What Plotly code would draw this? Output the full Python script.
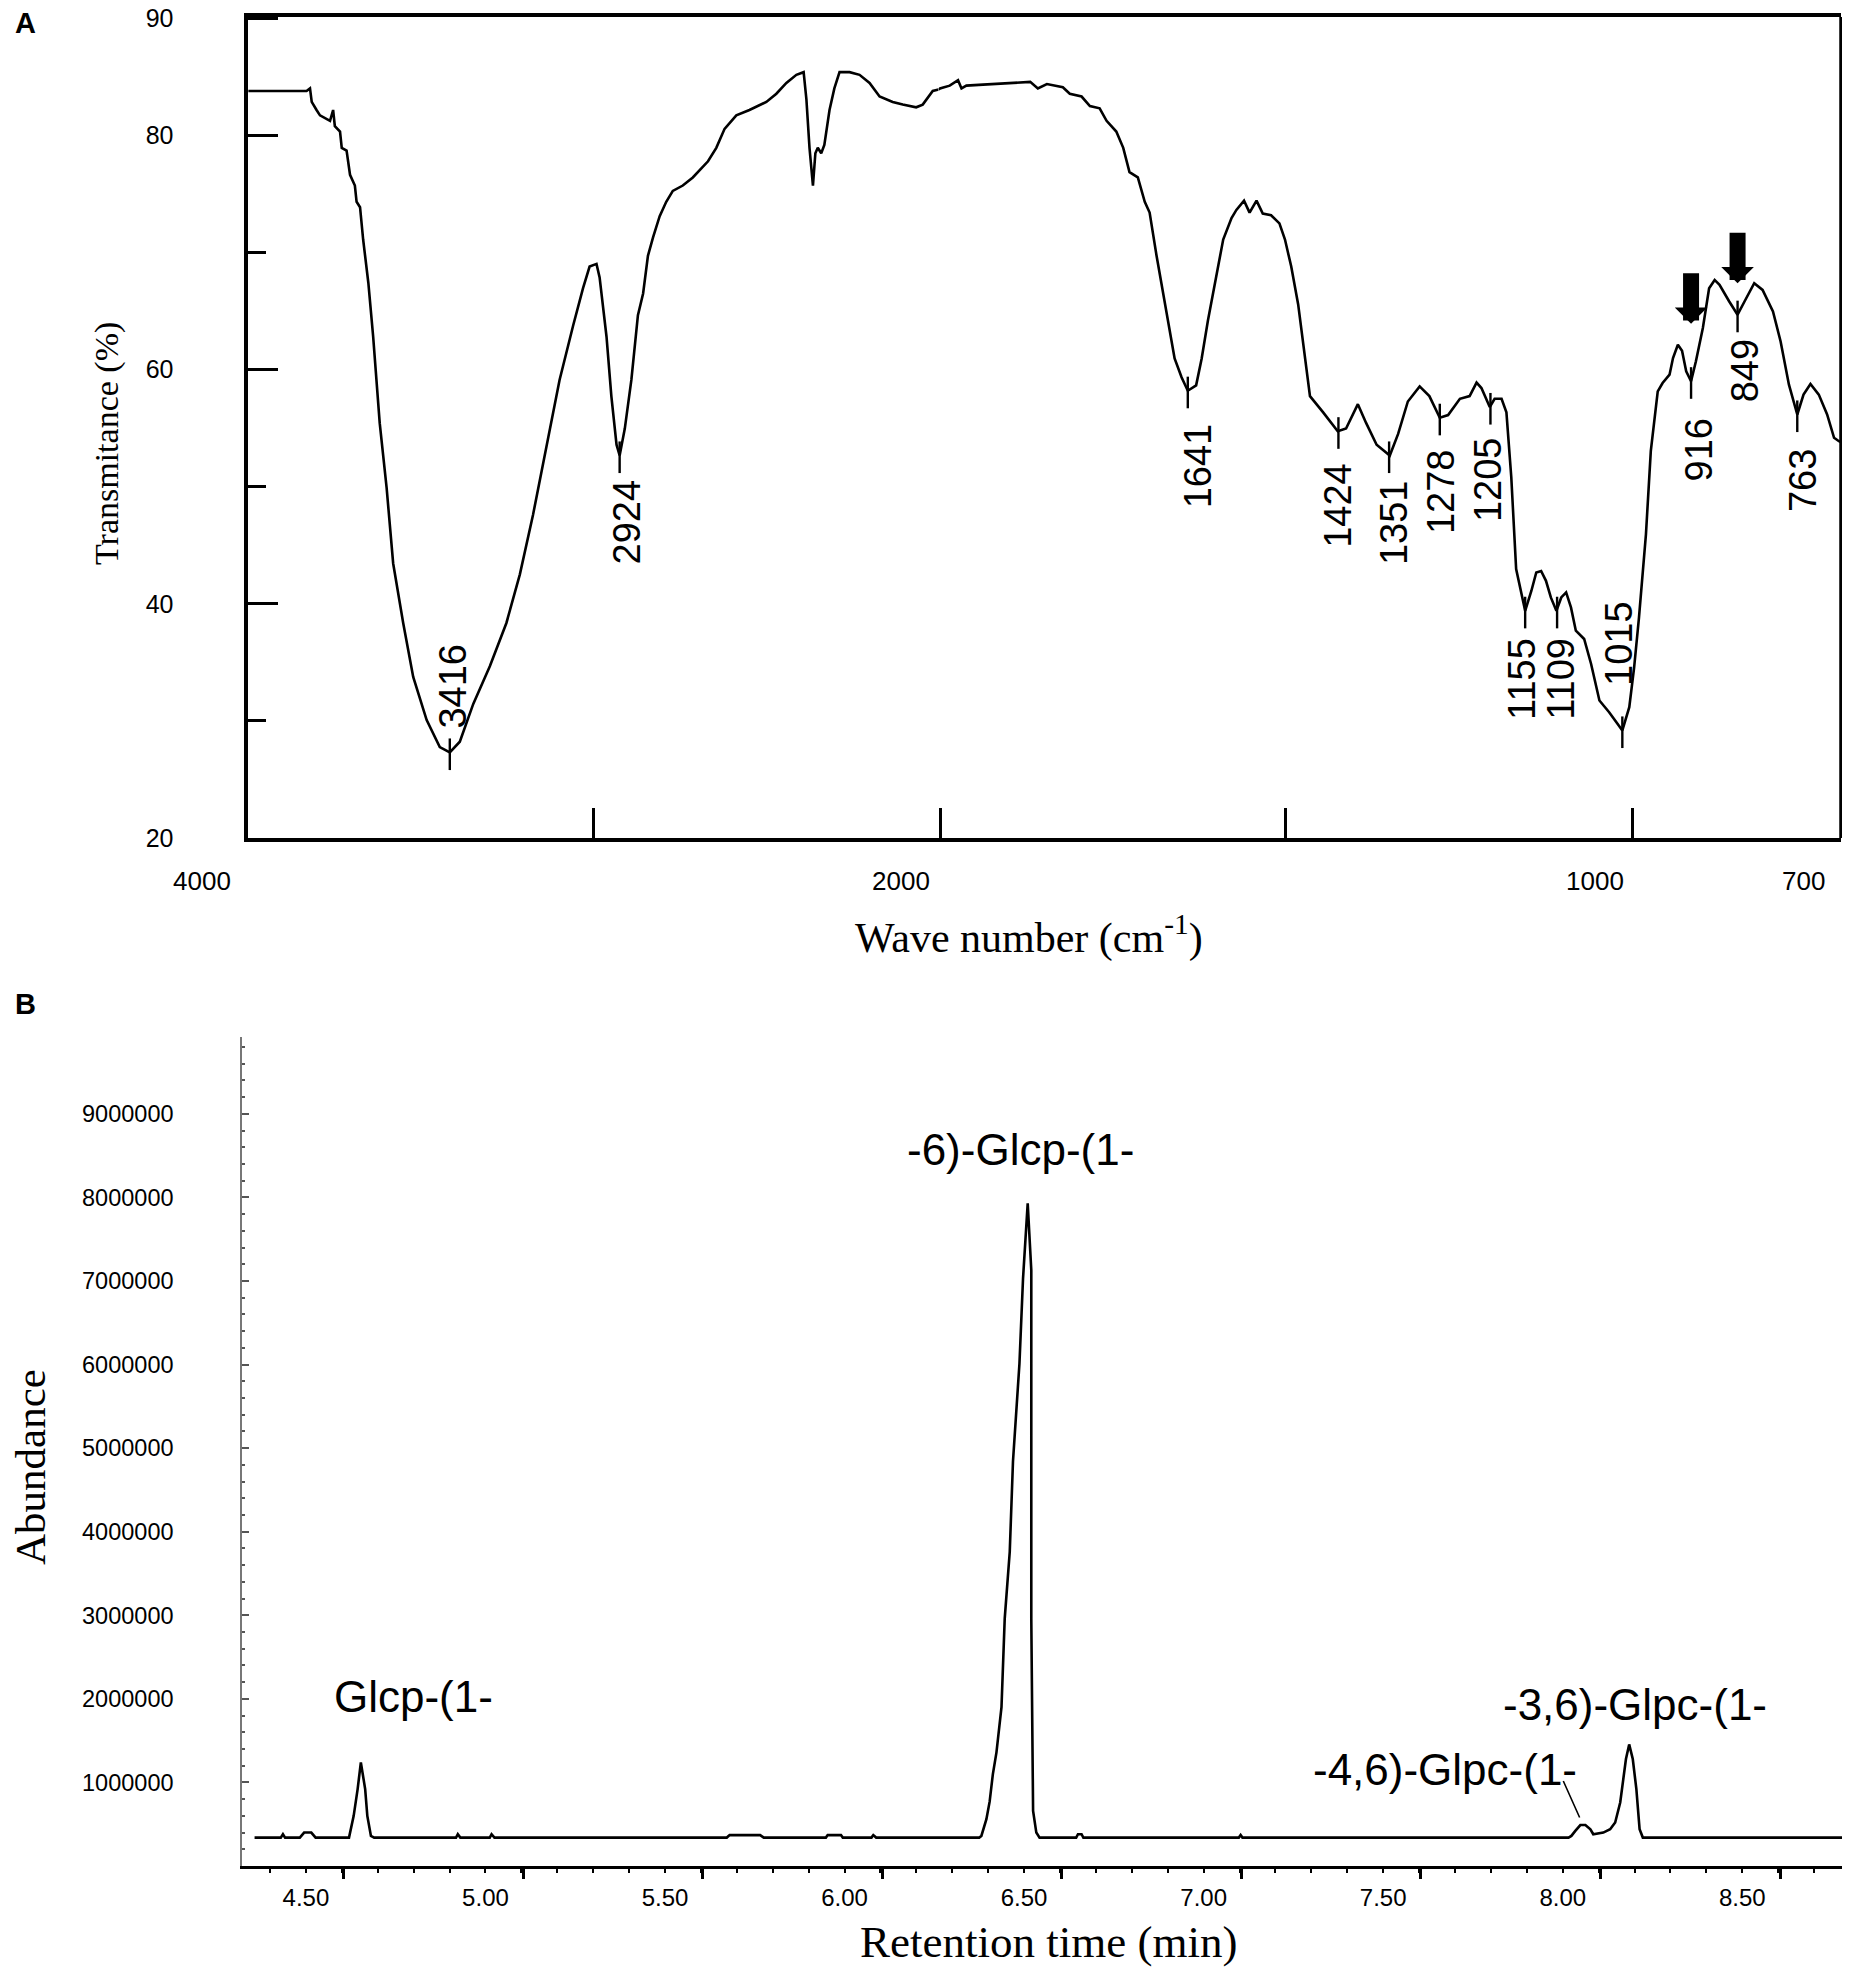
import plotly.graph_objects as go

W, H = 1850, 1968
OFF = 8  # page body margin of the saved html

# ---------------- Panel A: FTIR spectrum ----------------
ir_wn_high = [4000, 3831, 3821, 3816, 3802, 3792, 3763, 3754, 3749, 3734, 3729, 3715, 3705, 3691,
              3686, 3676, 3667, 3652, 3638, 3619, 3599, 3580, 3551, 3522, 3483, 3445, 3416, 3387,
              3348, 3300, 3252, 3213, 3175, 3136, 3098, 3059, 3030, 3011, 2991, 2982, 2962, 2948,
              2933, 2924, 2909, 2890, 2871, 2856, 2842, 2827, 2808, 2789, 2770, 2741, 2712, 2668,
              2644, 2620, 2586, 2548, 2499, 2470, 2441, 2412, 2391, 2383, 2374, 2364, 2357, 2350,
              2340, 2331, 2316, 2302, 2287, 2258, 2229, 2200, 2171, 2133, 2104, 2065, 2046, 2017, 2000]
ir_t_high = [83.78, 83.78, 84.0, 82.85, 82.16, 81.70, 81.24, 82.16, 80.78, 80.32, 78.93, 78.70, 76.63, 75.71,
             74.32, 73.86, 71.10, 67.41, 62.80, 55.42, 49.89, 43.44, 38.36, 33.75, 30.07, 27.76, 27.30, 28.22,
             31.45, 34.67, 38.36, 42.51, 47.58, 53.58, 59.11, 63.72, 66.95, 68.79, 69.02, 67.87, 62.80, 57.73,
             53.58, 52.66, 54.96, 59.11, 64.64, 66.49, 69.71, 71.3, 73.1, 74.32, 75.25, 75.71, 76.40, 77.78,
             78.93, 80.55, 81.70, 82.16, 82.85, 83.55, 84.47, 85.16, 85.39, 83.08, 78.93, 75.71, 78.47, 78.93,
             78.47, 79.17, 82.16, 84.0, 85.39, 85.39, 85.16, 84.47, 83.31, 82.85, 82.62, 82.39, 82.62, 83.78, 83.9]

ir_wn_low = [2000, 1998, 1984, 1972, 1967, 1960, 1936, 1897, 1868, 1857, 1844, 1821, 1811, 1794, 1782,
             1768, 1758, 1744, 1734, 1725, 1713, 1703, 1696, 1686, 1679, 1669, 1660, 1650, 1641, 1629,
             1621, 1612, 1602, 1590, 1578, 1571, 1560, 1552, 1542, 1533, 1521, 1509, 1501, 1492, 1482,
             1473, 1465, 1446, 1425, 1413, 1396, 1384, 1369, 1350, 1338, 1324, 1307, 1293, 1278, 1266,
             1249, 1235, 1225, 1218, 1206, 1199, 1189, 1182, 1175, 1168, 1161, 1155, 1146, 1139, 1132,
             1125, 1118, 1110, 1103, 1096, 1089, 1082, 1070, 1060, 1048, 1034, 1022, 1015, 1005, 998,
             991, 981, 974, 964, 957, 947, 942, 935, 929, 923, 916, 909, 899, 890, 882, 875, 861, 849,
             839, 825, 813, 798, 787, 775, 763, 754, 744, 732, 720, 710, 703, 700]
ir_t_low = [83.9, 84.0, 84.24, 84.70, 84.0, 84.24, 84.33, 84.47, 84.56, 84.0, 84.38, 84.10, 83.55, 83.31, 82.5,
            82.3, 81.24, 80.32, 78.93, 76.86, 76.40, 74.32, 73.40, 69.71, 67.41, 64.18, 60.95, 59.34, 58.19, 58.65,
            60.95, 64.18, 67.41, 71.10, 72.94, 73.63, 74.42, 73.40, 74.42, 73.31, 73.17, 72.48, 71.10, 68.79, 65.56,
            61.42, 57.73, 56.34, 54.73, 54.96, 57.04, 55.42, 53.58, 52.66, 54.50, 57.27, 58.56, 57.73, 55.88, 56.11,
            57.50, 57.73, 58.88, 58.42, 56.80, 57.50, 57.50, 56.34, 50.81, 42.97, 40.9, 39.4, 41.11, 42.67, 42.8,
            41.96, 40.54, 39.40, 40.54, 40.97, 39.69, 37.70, 36.99, 34.86, 31.74, 30.74, 29.75, 29.18, 31.17, 34.57,
            38.83, 45.93, 53.03, 58.14, 58.85, 59.56, 60.98, 62.12, 61.6, 59.85, 59.0, 60.70, 63.54, 66.94, 67.65, 67.23, 65.81, 64.68,
            65.81, 67.37, 66.80, 64.96, 62.40, 58.71, 56.16, 57.86, 58.77, 57.86, 56.16, 54.17, 53.88, 53.8]

peak_wn = [3416, 2924, 1641, 1424, 1351, 1278, 1205, 1155, 1109, 1015, 916, 849, 763]
peak_t = [27.3, 52.66, 58.19, 54.73, 52.66, 55.88, 56.80, 39.4, 39.4, 29.18, 59.0, 64.68, 56.16]
peak_label_t = [33.0, 47.0, 51.8, 48.4, 46.9, 49.6, 50.6, 33.6, 33.6, 36.6, 53.1, 59.9, 50.5]
peak_label_dx = [3, 7, 10, 0, 5, 2, -3, -3, 4, -4, 8, 7, 6]

arrow_wn = [916, 849]
arrow_tip_t = [63.9, 67.36]

ir_y_major = [20, 40, 60, 80, 90]
ir_y_minor = [30, 50, 70]
ir_x_ticks_high = [4000, 3000]
ir_x_ticks_low = [1997, 1500, 1000, 700]
ir_x_labels = ["4000", "2000", "1000", "700"]

# ---------------- Panel B: GC chromatogram ----------------
gc_time = [4.357, 4.430, 4.436, 4.442, 4.483, 4.495, 4.515, 4.527,
           4.620, 4.624, 4.633, 4.644, 4.653, 4.665, 4.671, 4.681, 4.690,
           4.918, 4.923, 4.930, 5.012, 5.017, 5.025,
           5.672, 5.680, 5.765, 5.775, 5.948, 5.953, 5.990, 5.995,
           6.075, 6.080, 6.088,
           6.375, 6.381, 6.395, 6.404, 6.413, 6.423, 6.437, 6.446, 6.460, 6.469, 6.487, 6.497, 6.510,
           6.520, 6.520, 6.525, 6.534, 6.543,
           6.645, 6.650, 6.660, 6.665, 7.098, 7.103, 7.108,
           8.016, 8.024, 8.035, 8.049, 8.063, 8.077, 8.085, 8.113, 8.132, 8.146, 8.160, 8.167, 8.176,
           8.185, 8.195, 8.205, 8.209, 8.214, 8.223, 8.784]
gc_abund = [0.34e6, 0.34e6, 0.38e6, 0.34e6, 0.34e6, 0.40e6, 0.40e6, 0.34e6,
            0.34e6, 0.42e6, 0.60e6, 0.92e6, 1.24e6, 0.92e6, 0.60e6, 0.36e6, 0.34e6,
            0.34e6, 0.38e6, 0.34e6, 0.34e6, 0.38e6, 0.34e6,
            0.34e6, 0.37e6, 0.37e6, 0.34e6, 0.34e6, 0.37e6, 0.37e6, 0.34e6,
            0.34e6, 0.37e6, 0.34e6,
            0.34e6, 0.36e6, 0.56e6, 0.77e6, 1.10e6, 1.36e6, 1.90e6, 2.96e6, 3.76e6, 4.84e6, 6.01e6, 7.03e6, 7.93e6,
            7.13e6, 2.96e6, 0.66e6, 0.40e6, 0.34e6,
            0.34e6, 0.38e6, 0.38e6, 0.34e6, 0.34e6, 0.37e6, 0.34e6,
            0.34e6, 0.36e6, 0.42e6, 0.49e6, 0.49e6, 0.44e6, 0.38e6, 0.40e6, 0.44e6, 0.52e6, 0.76e6, 1.00e6, 1.28e6,
            1.455e6, 1.28e6, 0.92e6, 0.68e6, 0.44e6, 0.34e6, 0.34e6]

gc_peak_names = ["Glcp-(1-", "-6)-Glcp-(1-", "-4,6)-Glpc-(1-", "-3,6)-Glpc-(1-"]
gc_name_t = [4.80, 6.49, 7.673, 8.202]
gc_name_v = [2.03e6, 8.57e6, 1.156e6, 1.933e6]

gc_x_labels = [4.5, 5.0, 5.5, 6.0, 6.5, 7.0, 7.5, 8.0, 8.5]
gc_y_labels = [1e6, 2e6, 3e6, 4e6, 5e6, 6e6, 7e6, 8e6, 9e6]

# ---------------- figure ----------------
SANS = "Liberation Sans, Arial, sans-serif"
SERIF = "Liberation Serif, Times New Roman, serif"
def px(x):
    return (x - OFF) / W
def py(y):
    return 1 - (y - OFF) / H

fig = go.Figure()
line_style = dict(color="black", width=2.6)
fig.add_trace(go.Scatter(x=ir_wn_high, y=ir_t_high, mode="lines", line=line_style,
                         xaxis="x", yaxis="y", hoverinfo="skip"))
fig.add_trace(go.Scatter(x=ir_wn_low, y=ir_t_low, mode="lines", line=line_style,
                         xaxis="x2", yaxis="y", hoverinfo="skip"))

# peak markers (short vertical ticks through each labelled minimum)
for wn, t in zip(peak_wn, peak_t):
    fig.add_trace(go.Scatter(x=[wn, wn], y=[t + 1.2, t - 1.5], mode="lines",
                             line=dict(color="black", width=2.4),
                             xaxis="x" if wn > 2000 else "x2", yaxis="y", hoverinfo="skip"))

fig.add_trace(go.Scatter(x=gc_time, y=gc_abund, mode="lines", line=dict(color="black", width=2.6),
                         xaxis="x3", yaxis="y3", hoverinfo="skip"))
# invisible helper so the tick-only overlay axis is drawn
fig.add_trace(go.Scatter(x=[gc_time[0]], y=[gc_abund[0]], mode="markers", marker=dict(opacity=0),
                         xaxis="x4", yaxis="y3", hoverinfo="skip"))

xA_split = 938.6
fig.update_layout(
    template="none",
    width=W, height=H, showlegend=False,
    margin=dict(l=0, r=0, t=0, b=0, autoexpand=False),
    paper_bgcolor="white", plot_bgcolor="white",
    xaxis=dict(domain=[px(248.2), px(xA_split)], range=[4000, 2000], anchor="y", automargin=False,
               showline=True, linewidth=3.5, linecolor="black", mirror=True,
               showgrid=False, zeroline=False, ticks="inside", ticklen=30, tickwidth=3,
               tickcolor="black", tickmode="array", tickvals=ir_x_ticks_high, showticklabels=False),
    xaxis2=dict(domain=[px(xA_split), px(1841)], range=[2000, 700], anchor="y", automargin=False,
                showline=True, linewidth=3.5, linecolor="black", mirror=True,
                showgrid=False, zeroline=False, ticks="inside", ticklen=30, tickwidth=3,
                tickcolor="black", tickmode="array", tickvals=ir_x_ticks_low, showticklabels=False),
    yaxis=dict(domain=[py(838), py(17)], range=[20, 90.1], anchor="x", automargin=False,
               showline=True, linewidth=3.5, linecolor="black",
               showgrid=False, zeroline=False, ticks="inside", ticklen=30, tickwidth=3,
               tickcolor="black", tickmode="array", tickvals=ir_y_major,
               ticktext=[str(v) for v in ir_y_major], ticklabelstandoff=66,
               ticklabeloverflow="allow",
               tickfont=dict(family=SANS, size=25, color="black"),
               minor=dict(tickmode="array", tickvals=ir_y_minor, ticks="inside", ticklen=18,
                          tickwidth=3, tickcolor="black")),
    xaxis3=dict(domain=[px(242), px(1845)], range=[4.322, 8.786], anchor="y3", automargin=False,
                showline=True, linewidth=3, linecolor="black", showgrid=False, zeroline=False,
                ticks="", tickmode="array", tickvals=gc_x_labels,
                ticktext=["%.2f" % v for v in gc_x_labels], ticklabelstandoff=8,
                ticklabeloverflow="allow",
                tickfont=dict(family=SANS, size=24, color="black")),
    xaxis4=dict(domain=[px(242), px(1845)], range=[4.322, 8.786], anchor="y3", overlaying="x3",
                automargin=False,
                showline=False, showgrid=False, zeroline=False, showticklabels=False,
                ticks="outside", ticklen=12, tickwidth=2.5, tickcolor="black",
                tick0=0.105, dtick=0.5,
                minor=dict(ticks="outside", dtick=0.1, ticklen=6, tickwidth=2, tickcolor="black")),
    yaxis3=dict(domain=[py(1866), py(1037)], range=[0, 9.92e6], anchor="x3", automargin=False,
                showline=True, linewidth=1.5, linecolor="#777777", showgrid=False, zeroline=False,
                ticks="inside", ticklen=7, tickwidth=1.5, tickcolor="#555555",
                tickmode="array", tickvals=gc_y_labels, ticktext=["%d" % v for v in gc_y_labels],
                ticklabelstandoff=62, ticklabeloverflow="allow",
                tickfont=dict(family=SANS, size=23.5, color="black"),
                minor=dict(ticks="inside", dtick=0.2e6, ticklen=3, tickwidth=1.5, tickcolor="#555555")),
)

# right border of panel A
fig.add_shape(type="line", xref="paper", yref="paper", x0=px(1841), x1=px(1841),
              y0=py(838), y1=py(17), line=dict(color="black", width=3.5))

C = dict(xanchor="center", yanchor="middle")
ann = []
# panel A x tick labels (offset to the left of their ticks, as in the original)
for lab, val, dx in zip(ir_x_labels, [4000, 2000, 1000, 700], [-46, -38, -38, -38]):
    ann.append(dict(x=val, xref="x" if val > 2000 else "x2", y=py(881), yref="paper",
                    text=lab, showarrow=False, xshift=dx,
                    font=dict(family=SANS, size=26, color="black"), **C))
# peak labels
for wn, lt, dx in zip(peak_wn, peak_label_t, peak_label_dx):
    ann.append(dict(x=wn, xref="x" if wn > 2000 else "x2", y=lt, yref="y", text=str(wn),
                    textangle=-90, showarrow=False, xshift=dx,
                    font=dict(family=SANS, size=38, color="black"), **C))
# arrows
for wn, tt in zip(arrow_wn, arrow_tip_t):
    ann.append(dict(x=wn, xref="x2", y=tt, yref="y", text="", showarrow=True,
                    ax=0, ay=-52, arrowhead=1, arrowsize=0.34, arrowwidth=16, arrowcolor="black"))
# axis titles panel A
ann.append(dict(x=px(107), y=py(444), xref="paper", yref="paper", text="Transmitance (%)",
                textangle=-90, showarrow=False, font=dict(family=SERIF, size=34, color="black"), **C))
ann.append(dict(x=px(1029), y=py(935), xref="paper", yref="paper",
                text="Wave number (cm<sup>-1</sup>)", showarrow=False,
                font=dict(family=SERIF, size=42, color="black"), **C))
# panel letters
ann.append(dict(x=px(25), y=py(23), xref="paper", yref="paper", text="<b>A</b>", showarrow=False,
                font=dict(family=SANS, size=29, color="black"), **C))
ann.append(dict(x=px(25), y=py(1004), xref="paper", yref="paper", text="<b>B</b>", showarrow=False,
                font=dict(family=SANS, size=29, color="black"), **C))
# panel B peak names
for name, t, v in zip(gc_peak_names, gc_name_t, gc_name_v):
    ann.append(dict(x=t, y=v, xref="x3", yref="y3", text=name, showarrow=False,
                    font=dict(family=SANS, size=44, color="black"), **C))
# leader line for the -4,6) peak
ann.append(dict(x=8.047, y=0.58e6, xref="x3", yref="y3", text="", showarrow=True,
                ax=-17, ay=-38, arrowhead=0, arrowwidth=1.6, arrowcolor="black"))
# axis titles panel B
ann.append(dict(x=px(30), y=py(1467), xref="paper", yref="paper", text="Abundance",
                textangle=-90, showarrow=False, font=dict(family=SERIF, size=43, color="black"), **C))
ann.append(dict(x=px(1048), y=py(1942), xref="paper", yref="paper", text="Retention time (min)",
                showarrow=False, font=dict(family=SERIF, size=45, color="black"), **C))

fig.update_layout(annotations=ann)
fig.write_html("out.html")
